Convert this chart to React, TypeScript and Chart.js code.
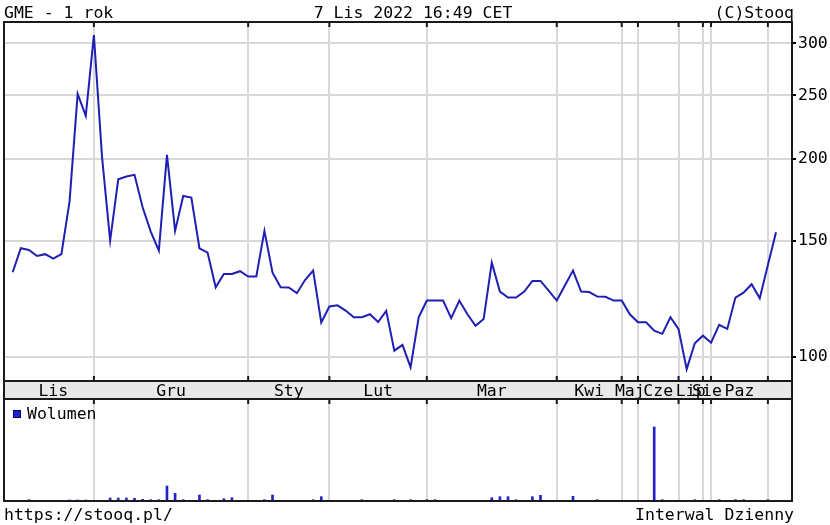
import React, { useEffect, useRef } from 'react';
import { Chart, registerables } from 'chart.js';
Chart.register(...registerables);

// Closing prices (one per record)
const prices = [
  134.4, 146.2, 145.3, 142.3, 143.2, 141.0, 143.2, 172.2, 251.1, 232.5,
  308.8, 201.6, 150.2, 186.2, 188.0, 189.1, 168.8, 155.0, 145.0, 202.8,
  155.4, 175.6, 174.6, 146.2, 144.0, 127.5, 133.6, 133.6, 134.9, 132.4,
  132.4, 155.4, 134.2, 127.5, 127.4, 124.9, 130.8, 135.2, 112.7, 119.2,
  119.7, 117.5, 114.8, 114.8, 116.0, 112.9, 117.4, 102.1, 104.2, 96.3,
  114.8, 121.7, 121.7, 121.7, 114.4, 121.7, 116.0, 111.4, 114.1, 139.0,
  125.6, 123.0, 123.0, 125.6, 130.4, 130.4, 126.0, 121.7, 128.3, 135.2,
  125.6, 125.4, 123.4, 123.3, 121.7, 121.7, 116.0, 112.8, 112.8, 109.5,
  108.3, 114.8, 110.1, 95.7, 104.8, 107.6, 105.0, 111.8, 110.2, 123.0,
  125.1, 128.9, 122.7, 137.9, 154.7,
];

// Volume (relative, millions), one per record
const volumes = [
  0, 0, 1.3, 0, 0, 0, 0, 1, 1, 1,
  0, 0, 3, 3, 3, 2.7, 1.7, 1.3, 1.3, 15,
  7.7, 1.3, 0, 6, 1.3, 0, 2.3, 3.3, 0, 0,
  0, 1.3, 6, 0, 0, 0, 0, 1.3, 4.3, 0,
  0, 0, 0, 1.3, 0, 0, 0, 1.3, 0, 1.3,
  0, 1.3, 1.3, 0, 0, 0, 0, 0, 0, 3.3,
  4.3, 4.3, 1.3, 0, 4.3, 5.7, 0, 0, 0, 4.7,
  0, 0, 1.3, 0, 0, 0, 0, 0, 0, 74,
  1.3, 0, 0, 0, 1.3, 0, 0, 1.3, 0, 1.3,
  1.3, 0, 0, 1.3, 0,
];

// Record index where each month starts
const monthStarts = [10, 29, 39, 51, 67, 75, 77, 82, 85, 86, 93];
const monthLabels = ['Lis', 'Gru', 'Sty', 'Lut', 'Mar', 'Kwi', 'Maj', 'Cze', 'Lip', 'Sie', 'Paz', ''];
const yTicks = [100, 150, 200, 250, 300];

const titleLeft = 'GME - 1 rok';
const titleCenter = '7 Lis 2022 16:49 CET';
const titleRight = '(C)Stooq';
const footLeft = 'https://stooq.pl/';
const footRight = 'Interwal Dzienny';
const volLegend = 'Wolumen';

const FONT = '"DejaVu Sans Mono", monospace';
const FS = 16.5;
const FRAME = '#1a1a1a';
const GRID = '#d8d8d8';
const LINE = '#1f1fb4';
const BAR = '#2222cc';
const X_MIN = -1.07;
const X_MAX = 95.97;

export default function App() {
  const priceRef = useRef<HTMLCanvasElement>(null);
  const volRef = useRef<HTMLCanvasElement>(null);

  useEffect(() => {
    const xAxis = (withOffset: boolean) => ({
      type: 'linear' as const,
      min: X_MIN,
      max: X_MAX,
      offset: false,
      afterBuildTicks: (s: any) => {
        s.ticks = monthStarts.map((v) => ({ value: v }));
      },
      ticks: { display: false },
      grid: { color: GRID, lineWidth: 2, drawTicks: false, offset: false },
      border: { display: false },
      afterFit: (s: any) => {
        s.height = 0;
      },
    });

    const pricePlugin = {
      id: 'pricePlugin',
      afterDraw(chart: any) {
        const { ctx, chartArea: a, scales } = chart;
        const x = scales.x;
        ctx.save();
        const w = a.right - a.left;
        const sTop = a.bottom;
        const sBot = a.bottom + 18;
        ctx.fillStyle = '#e8e8e8';
        ctx.fillRect(a.left, sTop, w, sBot - sTop);
        ctx.strokeStyle = FRAME;
        ctx.lineWidth = 2;
        ctx.strokeRect(a.left, a.top, w, a.bottom - a.top);
        ctx.strokeRect(a.left, sTop, w, sBot - sTop);
        ctx.beginPath();
        monthStarts.forEach((m) => {
          const px = x.getPixelForValue(m);
          ctx.moveTo(px, a.top);
          ctx.lineTo(px, a.top + 5);
          ctx.moveTo(px, a.bottom);
          ctx.lineTo(px, a.bottom - 5);
        });
        ctx.stroke();
        ctx.fillStyle = '#000';
        ctx.font = `${FS}px ${FONT}`;
        ctx.textBaseline = 'alphabetic';
        const bounds = [0, ...monthStarts, prices.length - 1];
        ctx.textAlign = 'center';
        monthLabels.forEach((lab, i) => {
          if (!lab) return;
          const p0 = x.getPixelForValue(bounds[i]);
          const p1 = x.getPixelForValue(bounds[i + 1]);
          ctx.fillText(lab, (p0 + p1) / 2, sBot - 3);
        });
        ctx.textAlign = 'left';
        ctx.fillText(titleLeft, 4, 18);
        ctx.textAlign = 'center';
        ctx.fillText(titleCenter, 413, 18);
        ctx.textAlign = 'right';
        ctx.fillText(titleRight, 794, 18);
        ctx.restore();
      },
    };

    const volPlugin = {
      id: 'volPlugin',
      afterDraw(chart: any) {
        const { ctx, chartArea: a, scales } = chart;
        const x = scales.x;
        ctx.save();
        const w = a.right - a.left;
        ctx.strokeStyle = FRAME;
        ctx.lineWidth = 2;
        ctx.strokeRect(a.left, a.top, w, a.bottom - a.top);
        ctx.beginPath();
        monthStarts.forEach((m) => {
          const px = x.getPixelForValue(m);
          ctx.moveTo(px, a.top);
          ctx.lineTo(px, a.top + 5);
        });
        ctx.stroke();
        // legend
        ctx.fillStyle = BAR;
        ctx.fillRect(a.left + 9, a.top + 11, 8, 8);
        ctx.lineWidth = 1;
        ctx.strokeStyle = '#000066';
        ctx.strokeRect(a.left + 9.5, a.top + 11.5, 7, 7);
        ctx.fillStyle = '#000';
        ctx.font = `${FS}px ${FONT}`;
        ctx.textBaseline = 'alphabetic';
        ctx.textAlign = 'left';
        ctx.fillText(volLegend, a.left + 23, a.top + 20);
        // footer
        ctx.fillText(footLeft, 4, 122);
        ctx.textAlign = 'right';
        ctx.fillText(footRight, 794, 122);
        ctx.restore();
      },
    };

    const priceChart = new Chart(priceRef.current!, {
      type: 'line',
      data: {
        datasets: [
          {
            data: prices.map((v, i) => ({ x: i, y: v })),
            borderColor: LINE,
            borderWidth: 2,
            pointRadius: 0,
            tension: 0,
            fill: false,
          },
        ],
      },
      options: {
        animation: false,
        responsive: false,
        maintainAspectRatio: false,
        layout: { padding: { left: 4, top: 22, right: 0, bottom: 19 } },
        plugins: { legend: { display: false }, tooltip: { enabled: false } },
        scales: {
          x: xAxis(false) as any,
          y: {
            type: 'logarithmic',
            position: 'right',
            min: 91.8,
            max: 323.2,
            afterBuildTicks: (s: any) => {
              s.ticks = yTicks.map((v) => ({ value: v }));
            },
            ticks: {
              color: '#000',
              font: { family: FONT, size: FS },
              padding: 2,
              autoSkip: false,
              callback: (v: any) => String(v),
            },
            grid: {
              color: GRID,
              lineWidth: 2,
              drawTicks: true,
              tickLength: 4,
              tickColor: '#000',
              tickWidth: 2,
            },
            border: { display: false },
            afterFit: (s: any) => {
              s.width = 38;
            },
          } as any,
        },
      },
      plugins: [pricePlugin],
    });

    const volChart = new Chart(volRef.current!, {
      type: 'bar',
      data: {
        datasets: [
          {
            data: volumes.map((v, i) => ({ x: i, y: v })),
            backgroundColor: BAR,
            borderWidth: 0,
            barThickness: 2,
          },
        ],
      },
      options: {
        animation: false,
        responsive: false,
        maintainAspectRatio: false,
        layout: { padding: { left: 4, top: 1, right: 38, bottom: 24 } },
        plugins: { legend: { display: false }, tooltip: { enabled: false } },
        scales: {
          x: xAxis(false) as any,
          y: { display: false, min: 0, max: 102 },
        },
      },
      plugins: [volPlugin],
    });

    return () => {
      priceChart.destroy();
      volChart.destroy();
    };
  }, []);

  return (
    <div style={{ position: 'absolute', left: 0, top: 0, width: 830, height: 525, background: '#fff' }}>
      <canvas ref={priceRef} width={830} height={400} style={{ position: 'absolute', left: 0, top: 0 }} />
      <canvas ref={volRef} width={830} height={127} style={{ position: 'absolute', left: 0, top: 398 }} />
    </div>
  );
}
